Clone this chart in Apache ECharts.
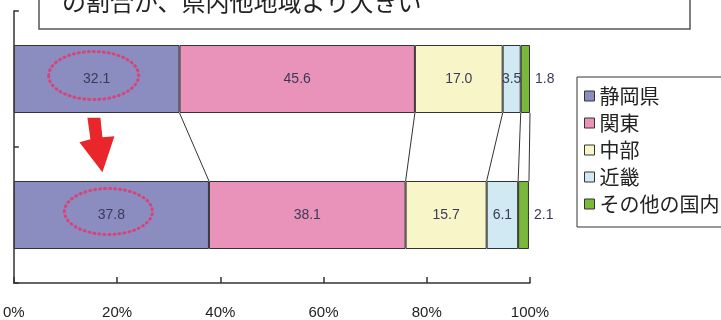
<!DOCTYPE html>
<html>
<head>
<meta charset="utf-8">
<script src="https://cdn.jsdelivr.net/npm/echarts@6/dist/echarts.min.js"></script>
<style>
  html, body { margin: 0; padding: 0; background: #fff; }
  #chart { width: 721px; height: 320px; }
</style>
</head>
<body>
<div id="chart"></div>
<script>
// Two survey rows (top / bottom), share by region in percent
const categories = ['前回', '今回'];
const seriesNames = ['静岡県', '関東', '中部', '近畿', 'その他の国内'];
const shizuoka = [32.1, 37.8];
const kanto = [45.6, 38.1];
const chubu = [17.0, 15.7];
const kinki = [3.5, 6.1];
const others = [1.8, 2.1];
const xTicks = [0, 20, 40, 60, 80, 100];
const headline = 'の割合が、県内他地域より大きい';

const values = [shizuoka, kanto, chubu, kinki, others];
const colors = ['#8b8dc1', '#e993bb', '#f8f6c9', '#d0e9f2', '#7ab83b'];
const cjk = '"Noto Sans CJK JP", "Noto Sans", sans-serif';
const num = '"Liberation Sans", Arial, sans-serif';

// cumulative right edges of each segment, used for the connecting lines
function cumulative(row) {
  let s = 0;
  return values.map(v => (s = Math.round((s + v[row]) * 10) / 10));
}
const cumTop = cumulative(0);
const cumBottom = cumulative(1);
const connectData = cumTop.map((v, i) => [v, cumBottom[i], 0]);

// centres of the 静岡県 segments, where the dotted rings go
const ringData = shizuoka.map((v, i) => [v / 2, i]);
const ring = { fill: null, stroke: '#d6457a', lineWidth: 3, lineDash: [1, 4], lineCap: 'round' };

const barSeries = seriesNames.map((name, i) => ({
  name: name,
  type: 'bar',
  stack: 'total',
  barWidth: '50%',
  data: values[i],
  z: 3,
  itemStyle: { color: colors[i], borderColor: '#333', borderWidth: 1 },
  label: {
    show: true,
    position: i === 4 ? 'right' : 'inside',
    distance: 5,
    formatter: p => p.value.toFixed(1),
    color: '#3a3a58',
    fontFamily: num,
    fontSize: 14
  }
}));

const option = {
  animation: false,
  backgroundColor: '#fff',
  grid: { left: 11, right: 191, top: 11, bottom: 36 },
  xAxis: {
    type: 'value',
    min: 0, max: 100, interval: 20,
    axisLine: { show: true, onZero: false, lineStyle: { color: '#333', width: 1.5 } },
    axisTick: { show: true, inside: true, length: 6, lineStyle: { color: '#333', width: 1.5 } },
    splitLine: { show: false },
    axisLabel: {
      formatter: v => xTicks.includes(v) ? v + '%' : '',
      margin: 22, color: '#222', fontFamily: num, fontSize: 15
    }
  },
  yAxis: {
    type: 'category',
    inverse: true,
    data: categories,
    axisLine: { show: true, lineStyle: { color: '#333', width: 1.5 } },
    axisTick: { show: true, inside: true, length: 5, lineStyle: { color: '#333', width: 1.5 } },
    axisLabel: { show: false }
  },
  legend: {
    orient: 'vertical',
    left: 577, top: 77,
    data: seriesNames,
    icon: 'rect',
    itemWidth: 10, itemHeight: 10, itemGap: 7,
    padding: [9, 40, 13, 7],
    borderColor: '#333', borderWidth: 1,
    backgroundColor: '#fff',
    itemStyle: { borderColor: '#333', borderWidth: 1 },
    textStyle: { fontFamily: cjk, fontSize: 20, color: '#222', lineHeight: 20 }
  },
  graphic: [
    {
      type: 'rect', z: 100,
      shape: { x: 39, y: -12, width: 651, height: 41 },
      style: { fill: '#fff', stroke: '#555', lineWidth: 1.5 }
    },
    {
      type: 'text', z: 101,
      style: { x: 62, y: 2, text: headline, font: '24px ' + cjk, fill: '#222', verticalAlign: 'middle' }
    }
  ],
  series: [
    ...barSeries,
    {
      // lines joining matching segment edges of the two bars
      type: 'custom',
      z: 2,
      silent: true,
      encode: { x: 0, y: 2 },
      data: connectData,
      renderItem: function (params, api) {
        const band = api.size([0, 1])[1];
        const p0 = api.coord([api.value(0), 0]);
        const p1 = api.coord([api.value(1), 1]);
        return {
          type: 'line',
          shape: { x1: p0[0], y1: p0[1] + band * 0.25, x2: p1[0], y2: p1[1] - band * 0.25 },
          style: { stroke: '#333', lineWidth: 1 }
        };
      }
    },
    {
      // dotted rings around the 静岡県 values and the red arrow between them
      type: 'custom',
      z: 10,
      silent: true,
      clip: false,
      encode: { x: 0, y: 1 },
      data: ringData,
      renderItem: function (params, api) {
        const band = api.size([0, 1])[1];
        const p = api.coord([api.value(0), api.value(1)]);
        const children = [{
          type: 'ellipse',
          shape: { cx: p[0] - 3, cy: p[1] - 3.5, rx: params.dataIndex === 0 ? 45 : 44, ry: params.dataIndex === 0 ? 24 : 23 },
          style: ring
        }];
        if (params.dataIndex === 0) {
          const ax = api.coord([16, 0])[0];
          const bodyTopY = p[1] + band * 0.285;
          const tipY = p[1] + band * 0.685;
          children.push({
            type: 'polygon',
            shape: {
              points: [
                [ax - 9, bodyTopY], [ax + 4, bodyTopY], [ax + 6, tipY - 35],
                [ax + 18, tipY - 36], [ax + 6, tipY], [ax - 17, tipY - 30], [ax - 6, tipY - 33]
              ]
            },
            style: { fill: '#e8262b' }
          });
        }
        return { type: 'group', children: children };
      }
    }
  ]
};

const chart = echarts.init(document.getElementById('chart'), null, { renderer: 'canvas' });
chart.setOption(option);
</script>
</body>
</html>
